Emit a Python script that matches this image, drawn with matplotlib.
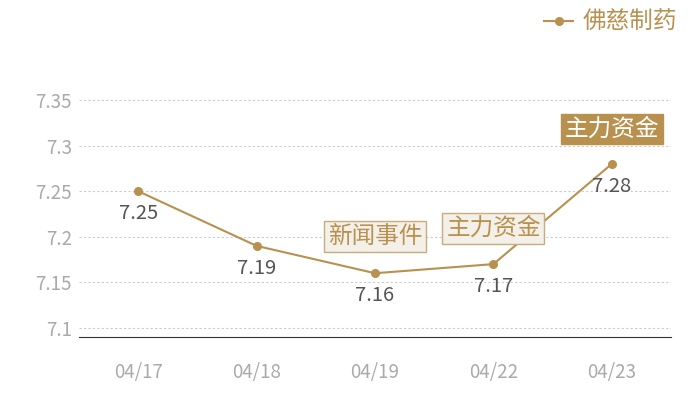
import matplotlib
matplotlib.use("Agg")
import matplotlib.pyplot as plt

plt.rcParams['font.family'] = ['Noto Sans CJK SC', 'DejaVu Sans']

dates = ["04/17", "04/18", "04/19", "04/22", "04/23"]
prices = [7.25, 7.19, 7.16, 7.17, 7.28]
series_name = "佛慈制药"
yticks = [7.1, 7.15, 7.2, 7.25, 7.3, 7.35]
ytick_labels = ["7.1", "7.15", "7.2", "7.25", "7.3", "7.35"]
events = [(2, "新闻事件", "light"), (3, "主力资金", "light"), (4, "主力资金", "dark")]

gold = "#b8914f"
fig = plt.figure(figsize=(7, 4), dpi=100)
ax = fig.add_axes([0.1129, 0.1575, 0.8457, 0.615])
x = list(range(len(dates)))
ax.plot(x, prices, color=gold, lw=1.5, marker="o", ms=5.5, label=series_name, zorder=3)
ax.set_xlim(-0.5, 4.5)
ax.set_ylim(7.09, 7.36)
ax.set_yticks(yticks)
ax.set_yticklabels(ytick_labels)
ax.set_xticks(x)
ax.set_xticklabels(dates)
ax.grid(axis='y', color="#cccccc", ls=(0, (2, 2)), lw=0.8)
for s in ["top", "right", "left"]:
    ax.spines[s].set_visible(False)
ax.spines["bottom"].set_color("#333333")
ax.tick_params(length=0, labelsize=13.5, colors="#aaaaaa")
ax.tick_params(axis='y', pad=5)
ax.tick_params(axis='x', pad=18)

for xi, v in zip(x, prices):
    ax.annotate(f"{v:g}", (xi, v), xytext=(0, -16), textcoords="offset points",
                ha="center", va="center", fontsize=14.5, color="#555555", zorder=4)

for idx, txt, style in events:
    if style == "dark":
        ax.annotate(txt, (idx, prices[idx]), xytext=(0, 25), textcoords="offset points",
                    ha="center", va="center", fontsize=17, color="white", zorder=5,
                    bbox=dict(boxstyle="square,pad=0.16", fc=gold, ec=gold))
    else:
        ax.annotate(txt, (idx, prices[idx]), xytext=(0, 26.5 if idx == 2 else 25.5), textcoords="offset points",
                    ha="center", va="center", fontsize=17, color=gold, zorder=5,
                    bbox=dict(boxstyle="square,pad=0.16", fc="#f3efe9", ec="#c9ab7c", lw=1))

leg = fig.legend(loc="upper right", bbox_to_anchor=(0.997, 1.025), frameon=False,
                 fontsize=17, labelcolor=gold, handlelength=1.2, handletextpad=0.4)

fig.savefig("out.png", dpi=100)
